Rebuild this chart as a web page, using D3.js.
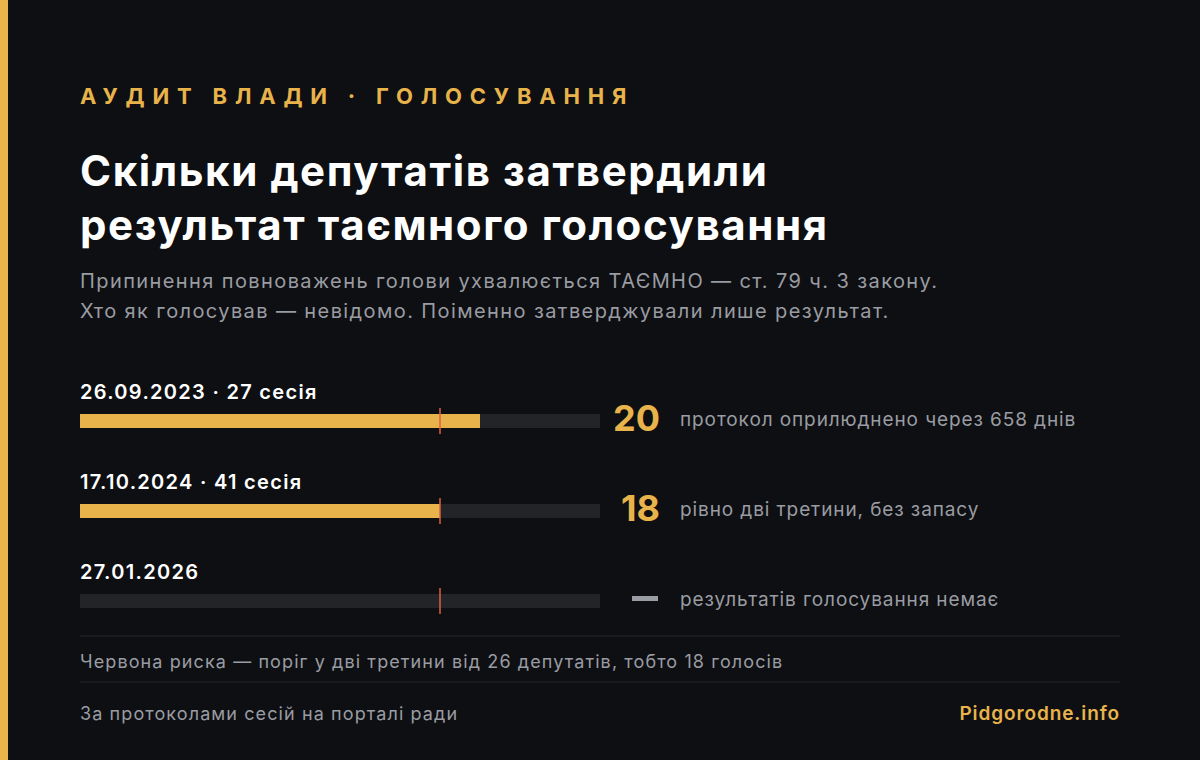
<!DOCTYPE html><html><head><meta charset="utf-8">
<script src="https://cdn.jsdelivr.net/npm/d3@7"></script>
<style>body{margin:0;background:#0e0f12}svg{display:block}text{font-family:Inter,"Noto Sans",sans-serif}</style>
</head><body><svg id="c" width="1200" height="760"></svg>
<script>
const labels=["26.09.2023 · 27 сесія","17.10.2024 · 41 сесія","27.01.2026"];
const values=[20,18,null];
const notes=["протокол оприлюднено через 658 днів","рівно дві третини, без запасу","результатів голосування немає"];
const total=26, threshold=18;
const svg=d3.select("#c");
svg.append("rect").attr("width",1200).attr("height",760).attr("fill","#0e0f12");
svg.append("rect").attr("width",8).attr("height",760).attr("fill","#e8b34b");
svg.append("text").attr("x",80).attr("y",104).attr("fill","#e8b34b").attr("font-size",22).attr("font-weight",700).attr("letter-spacing",7.8).text("АУДИТ ВЛАДИ · ГОЛОСУВАННЯ");
["Скільки депутатів затвердили","результат таємного голосування"].forEach((t,i)=>svg.append("text").attr("x",80).attr("y",186+54*i).attr("fill","#fff").attr("font-size",42).attr("font-weight",700).attr("letter-spacing",1.6).text(t));
["Припинення повноважень голови ухвалюється ТАЄМНО — ст. 79 ч. 3 закону.","Хто як голосував — невідомо. Поіменно затверджували лише результат."].forEach((t,i)=>svg.append("text").attr("x",80).attr("y",288+30*i).attr("fill","#9a9ca3").attr("font-size",20).attr("letter-spacing",1.4).text(t));
const x=d3.scaleLinear().domain([0,total]).range([80,600]);
const y=d3.scaleBand().domain(labels).range([370,640]).paddingInner(0);
labels.forEach((l,i)=>{
  const y0=y(l)+44;
  svg.append("text").attr("x",80).attr("y",y0-15).attr("fill","#fff").attr("font-size",20).attr("font-weight",600).attr("letter-spacing",1.3).text(l);
  svg.append("rect").attr("x",x(0)).attr("y",y0).attr("width",x(total)-x(0)).attr("height",14).attr("fill","#232428");
  if(values[i]!=null){
    svg.append("rect").attr("x",x(0)).attr("y",y0).attr("width",x(values[i])-x(0)).attr("height",14).attr("fill","#e8b34b");
    svg.append("text").attr("x",660).attr("y",y0+17).attr("text-anchor","end").attr("fill","#e8b34b").attr("font-size",36).attr("font-weight",700).text(values[i]);
  } else {
    svg.append("rect").attr("x",632).attr("y",y0+2).attr("width",26).attr("height",5).attr("fill","#9a9ca3");
  }
  svg.append("line").attr("x1",x(threshold)).attr("x2",x(threshold)).attr("y1",y0-6).attr("y2",y0+20).attr("stroke","#e0603f").attr("stroke-width",1.5);
  svg.append("text").attr("x",680).attr("y",y0+12).attr("fill","#9a9ca3").attr("font-size",19).attr("letter-spacing",0.9).text(notes[i]);
});
[636,682].forEach(yy=>svg.append("line").attr("x1",80).attr("x2",1120).attr("y1",yy).attr("y2",yy).attr("stroke","#26272b"));
svg.append("text").attr("x",80).attr("y",668).attr("fill","#9a9ca3").attr("font-size",18).attr("letter-spacing",1.1).text("Червона риска — поріг у дві третини від 26 депутатів, тобто 18 голосів");
svg.append("text").attr("x",80).attr("y",720).attr("fill","#9a9ca3").attr("font-size",18).attr("letter-spacing",1.1).text("За протоколами сесій на порталі ради");
svg.append("text").attr("x",1120).attr("y",720).attr("text-anchor","end").attr("fill","#e8b34b").attr("font-size",19).attr("font-weight",600).attr("letter-spacing",0.9).text("Pidgorodne.info");
</script></body></html>
